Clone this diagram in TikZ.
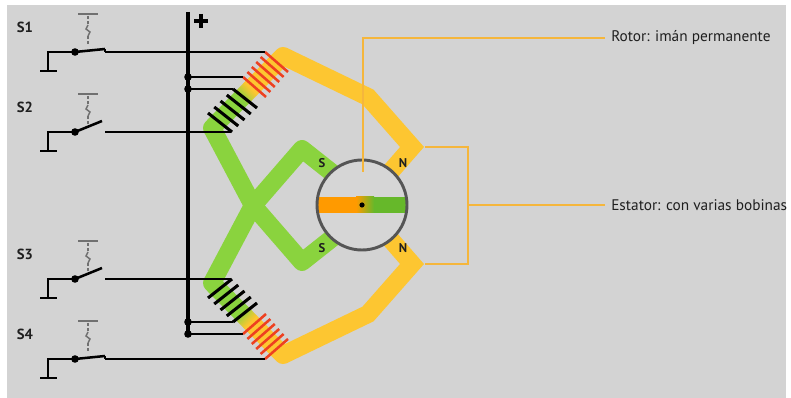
\documentclass[tikz,border=0pt]{standalone}
\usepackage{fontspec}
\setmainfont{PT Sans}
\usetikzlibrary{calc}
\definecolor{bgc}{HTML}{D3D3D3}
\definecolor{yel}{HTML}{FDC631}
\definecolor{grn}{HTML}{8AD33E}
\definecolor{coilred}{HTML}{EE4020}
\definecolor{rorange}{HTML}{FF9A00}
\definecolor{rgreen}{HTML}{66B82A}
\definecolor{ptrc}{HTML}{F5B63C}
\definecolor{rimc}{HTML}{555555}
\definecolor{circfill}{HTML}{D6D6D6}
\definecolor{actc}{HTML}{707070}
\tikzset{
  band/.style={line width=13.5pt, line cap=butt},
  wire/.style={line width=1.9pt, black},
  bus/.style={line width=2.3pt, black},
  redturn/.style={line width=1.9pt, coilred},
  blkturn/.style={line width=2.3pt, black},
  act/.style={line width=1.1pt, actc},
  ptr/.style={line width=1.5pt, ptrc},
  lbl/.style={font=\fontsize{11.5pt}{13pt}\selectfont, text=black!88, inner sep=4.5pt, anchor=west},
  slbl/.style={font=\bfseries\fontsize{11pt}{13pt}\selectfont, text=black!88, inner sep=0pt},
  pole/.style={font=\bfseries\fontsize{9.5pt}{11pt}\selectfont, text=black!88, inner sep=0pt},
}
% one half of the stator: core with two coils, yellow arm and green arm
\newcommand\statorhalf[1]{%
  \coordinate (T#1) at (283,56);
  \coordinate (B#1) at (212,128);
  \coordinate (YA#1) at (368,97);
  \coordinate (YB#1) at (412,147);
  \coordinate (YC#1) at (385,178);
  \coordinate (X#1) at (253,205.5);
  \coordinate (V#1) at (302,262);
  \coordinate (SP#1) at (345,228);
  \coordinate (jr#1) at (188,77);
  \coordinate (jk#1) at (188,89);
  \coordinate (rs#1) at (265,52);
  \coordinate (re#1) at (243,77);
  \coordinate (ks#1) at (233,89);
  \coordinate (ke#1) at (231,132);
  \draw[band, yel, line join=miter] (T#1) -- (YA#1) -- (YB#1) -- (YC#1);
  \draw[band, grn, line join=round] (B#1) -- (X#1) -- (V#1) -- (SP#1);
  \draw[band, yel, line cap=round] (T#1) -- ($(T#1)!0.45!(B#1)$);
  \draw[band, grn, line cap=round] ($(T#1)!0.6!(B#1)$) -- (B#1);
  \foreach \i in {0,...,14}{%
    \pgfmathsetmacro\pa{0.45+0.01*\i}%
    \pgfmathsetmacro\pb{0.462+0.01*\i}%
    \pgfmathtruncatemacro\mix{100-100*\i/14}%
    \draw[band, color=yel!\mix!grn] ($(T#1)!\pa!(B#1)$) -- ($(T#1)!\pb!(B#1)$);
  }
  \foreach \k in {0,...,5}
    \draw[redturn] ($(rs#1)+\k*(-4.4,5)$) -- ++(23,20);
  \foreach \k in {0,...,4}
    \draw[blkturn] ($(ks#1)+\k*(-6.25,6)$) -- ++(24,19);
  \draw[wire] (jr#1) -- (re#1);
  \draw[wire] (jk#1) -- (ks#1);
  \fill (jr#1) circle (3.8);
  \fill (jk#1) circle (3.8);
  \node[pole] (S#1) at (322,248) {S};
  \node[pole] (N#1) at (403,163) {N};
}
% switch with ground, actuator and blade
\newcommand\switchrow[3]{%
  \node[slbl] (#1) at (25,#2-25) {#1};
  \coordinate (#1g) at (48,#2+19);
  \coordinate (#1p) at (75,#2);
  \coordinate (#1c) at (105,#2);
  \draw[wire] (40,#2+19) -- (57,#2+19);
  \draw[wire, line join=miter] (#1g) |- (#1p);
  \draw[wire] (#1p) -- ++#3;
  \fill (#1p) circle (3.8);
  \draw[act] (78,#2-38) -- (98,#2-38);
  \draw[act, dash pattern=on 2.2pt off 1.6pt] (88,#2-36) -- (88,#2-27);
  \draw[act] (88,#2-27) -- (86,#2-23) -- (90,#2-20) -- (88,#2-16);
  \draw[act, dash pattern=on 2.2pt off 1.6pt] (88,#2-16) -- (88,#2-7);
}
\begin{document}
\begin{tikzpicture}[x=0.75pt,y=-0.75pt]
\useasboundingbox (0,0) rectangle (791,398);
\fill[white] (0,0) rectangle (791,398);
\fill[bgc] (7,5) rectangle (786,398);

\statorhalf{u}
\begin{scope}[shift={(0,411)},yscale=-1]
  \statorhalf{d}
\end{scope}

% supply rail
\draw[bus] (188,12) -- (188,335);
\draw[line width=2.3pt] (194,21) -- (208,21) (201,14) -- (201,28);

% switches
\switchrow{S1}{52}{(30,-3)}
\switchrow{S2}{132}{(27,-11)}
\switchrow{S3}{279}{(27,-11)}
\switchrow{S4}{359}{(30,-3)}
\draw[wire] (S1c) -- (rsu);
\draw[wire] (S2c) -- (keu);
\draw[wire] (S3c) -- (ked);
\draw[wire] (S4c) -- (rsd);
\draw[wire] ($(S1c)+(0,-3)$) -- (S1c);
\draw[wire] ($(S4c)+(0,-3)$) -- (S4c);

% rotor
\coordinate (rc) at (362,205);
\fill[circfill] (rc) circle (45);
\begin{scope}
  \clip (rc) circle (45);
  \fill[rorange] (300,197) rectangle (356,213);
  \shade[left color=rorange, right color=rgreen] (356,197) rectangle (374,213);
  \fill[rgreen] (374,197) rectangle (420,213);
\end{scope}
\draw[rimc, line width=2.2pt] (rc) circle (45);
\fill (rc) circle (2.6);

% callouts
\node[lbl] (rotor) at (605,38) {Rotor: imán permanente};
\node[lbl] (estator) at (605,205) {Estator: con varias bobinas};
\coordinate (rin) at (363,172);
\draw[ptr] (rin) |- (rotor.west);
\coordinate (bru) at (425,147);
\coordinate (brd) at (425,264);
\draw[ptr] (bru) -- (468,147) -- (468,264) -- (brd);
\draw[ptr] (468,205) -- (estator.west);
\end{tikzpicture}
\end{document}
